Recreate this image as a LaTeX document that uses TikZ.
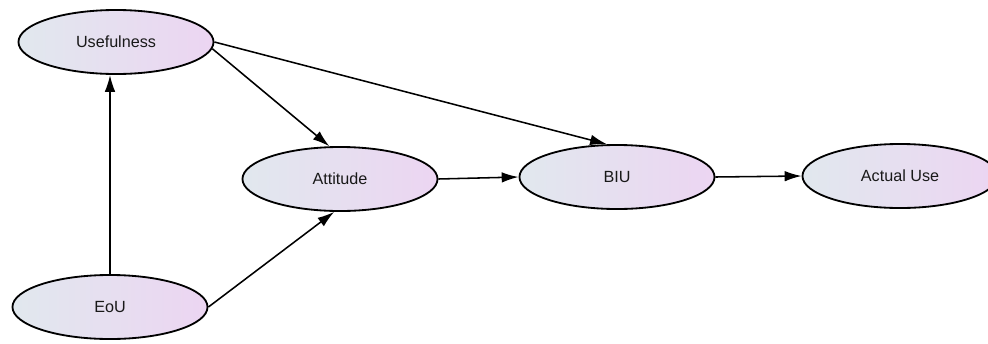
\documentclass[tikz,border=0pt]{standalone}
\usepackage{fontspec}
\setmainfont{Liberation Sans}
\usetikzlibrary{arrows.meta, shapes.geometric}
\definecolor{shadeleft}{HTML}{E1E8EE}
\definecolor{shaderight}{HTML}{ECD5F2}

\begin{document}
\begin{tikzpicture}[x=0.025cm, y=-0.025cm,
	construct/.style={ellipse, draw=black, line width=1.3pt, minimum width=4.875cm, minimum height=1.6cm, inner sep=0pt, left color=shadeleft, right color=shaderight, font=\fontsize{11.5}{14}\selectfont, text=black!90},
	link/.style={-{Latex[length=12pt, width=7.5pt]}, line width=1.1pt}]
	\useasboundingbox (0,0) rectangle (988,343);
	% Nodes
	\node[construct] (use) at (116,42) {Usefulness};
	\node[construct] (eou) at (110,307) {EoU};
	\node[construct] (att) at (340,179) {Attitude};
	\node[construct] (biu) at (617,177) {BIU};
	\node[construct] (act) at (900,176) {Actual Use};
	
	% Edges
	\path[link] (eou.north) edge (eou.north |- use.south);
	\path[link] (eou.east) edge (att.-100);
	\path[link] (use.-4) edge (att.108);
	\path[link] (use.east) edge (biu.107);
	\path[link] (att.east) edge (biu.west);
	\path[link] (biu.east) edge (act.west);
\end{tikzpicture}
\end{document}
